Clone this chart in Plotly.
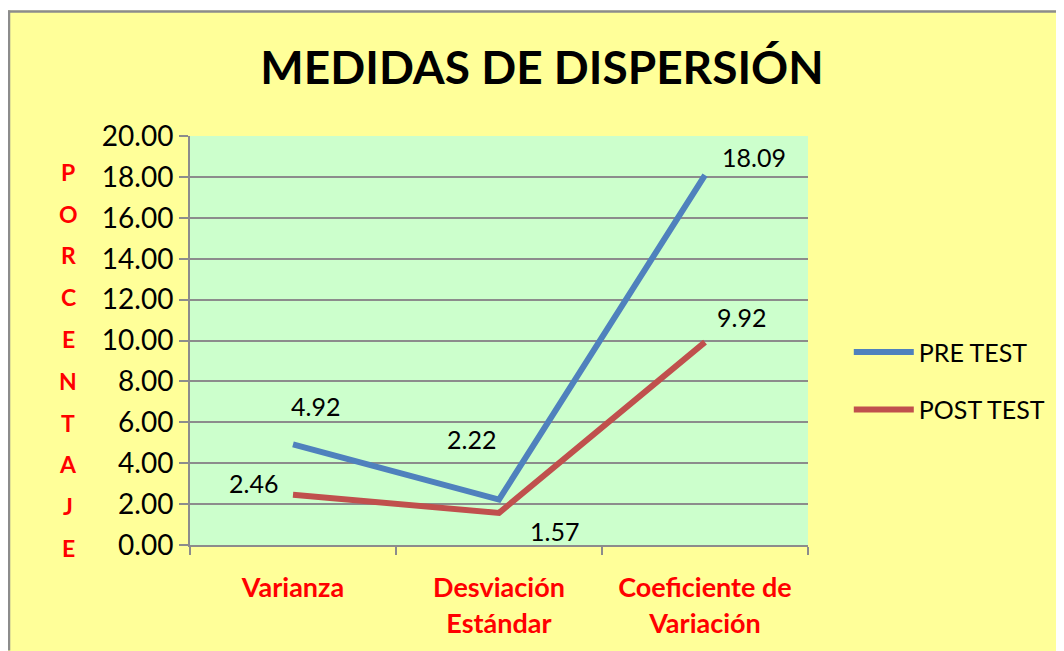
import plotly.graph_objects as go

categories = ["Varianza", "Desviación<br>Estándar", "Coeficiente de<br>Variación"]
pre_test = [4.92, 2.22, 18.09]
post_test = [2.46, 1.57, 9.92]
y_ticks = [0, 2, 4, 6, 8, 10, 12, 14, 16, 18, 20]
y_title = "PORCENTAJE"

BLUE = "#4F81BD"
RED = "#C0504D"
GRAY = "#8C8C8C"
FONT = "Lato"

# page body margin shifts everything by 8 px
OFF = 8
FW, FH = 1064 - OFF, 651 - OFF
L, T, B, W = 190 - OFF, 136 - OFF, 547 - OFF, 618
H = B - T


def px_x(px):
    return (px - L) / W


def px_y(py):
    return (B - py) / H


fig = go.Figure()
fig.add_trace(go.Scatter(x=categories, y=pre_test, mode="lines", name="PRE TEST",
                         line=dict(color=BLUE, width=6), legendgroup="a"))
fig.add_trace(go.Scatter(x=categories, y=post_test, mode="lines", name="POST TEST",
                         line=dict(color=RED, width=6), legendgroup="b"))

# data labels (offsets in pixels)
pre_off = [(22, 38), (-28, 61), (49, 18)]
post_off = [(-40, 12), (55, -18), (36, 25)]
for vals, offs in ((pre_test, pre_off), (post_test, post_off)):
    for c, v, (dx, dy) in zip(categories, vals, offs):
        fig.add_annotation(x=c, y=v, text=f"{v:.2f}", showarrow=False,
                           xanchor="center", yanchor="middle",
                           xshift=dx, yshift=dy, font=dict(size=25, color="black", family=FONT))

# vertical axis title letters
for i, ch in enumerate(y_title):
    py = 172 - OFF + i * 42
    fig.add_annotation(xref="paper", yref="paper", x=px_x(68 - OFF), y=px_y(py),
                       xanchor="center", yanchor="middle",
                       text=f"<b>{ch}</b>", showarrow=False,
                       font=dict(size=23, color="#FF0000", family=FONT))

# white strip above the chart frame, then the gray frame (top and left sides)
fig.add_shape(type="rect", xref="paper", yref="paper",
              x0=px_x(-2), x1=px_x(FW + 2), y0=px_y(2), y1=px_y(-2),
              fillcolor="white", line=dict(width=0), layer="below")
fig.add_shape(type="line", xref="paper", yref="paper",
              x0=px_x(0), x1=px_x(FW + 2), y0=px_y(3), y1=px_y(3),
              line=dict(color=GRAY, width=2.5), layer="below")
fig.add_shape(type="line", xref="paper", yref="paper",
              x0=px_x(1), x1=px_x(1), y0=px_y(2), y1=px_y(FH + 2),
              line=dict(color=GRAY, width=2.5), layer="below")

fig.update_layout(
    width=FW, height=FH,
    paper_bgcolor="#FFFF99", plot_bgcolor="#CCFFCC",
    margin=dict(l=L, r=FW - L - W, t=T, b=FH - B),
    title=dict(text="<b>MEDIDAS DE DISPERSIÓN</b>", x=(542 - OFF) / FW, xref="container",
               xanchor="center", y=1 - (68 - OFF) / FH, yanchor="middle",
               font=dict(size=46, color="black", family=FONT)),
    showlegend=True,
    legend=dict(x=1.066, y=px_y(382 - OFF), xanchor="left", yanchor="middle",
                bgcolor="rgba(0,0,0,0)",
                font=dict(size=25, color="black", family=FONT), tracegroupgap=22,
                itemwidth=60),
    xaxis=dict(showgrid=False, tickson="boundaries", ticks="outside", ticklen=8,
               tickcolor=GRAY, tickwidth=2, showline=True, linecolor=GRAY, linewidth=2,
               tickfont=dict(size=27, color="#FF0000", family=FONT, weight="bold"),
               ticklabelstandoff=18, range=[-0.5, 2.5]),
    yaxis=dict(range=[0, 20], tickvals=y_ticks, tickformat=".2f", showgrid=True,
               gridcolor=GRAY, gridwidth=2, ticks="outside", ticklen=9,
               tickcolor=GRAY, tickwidth=2, showline=True, linecolor=GRAY, linewidth=2,
               tickfont=dict(size=28, color="black", family=FONT), zeroline=False),
)
fig.write_html("out.html")
